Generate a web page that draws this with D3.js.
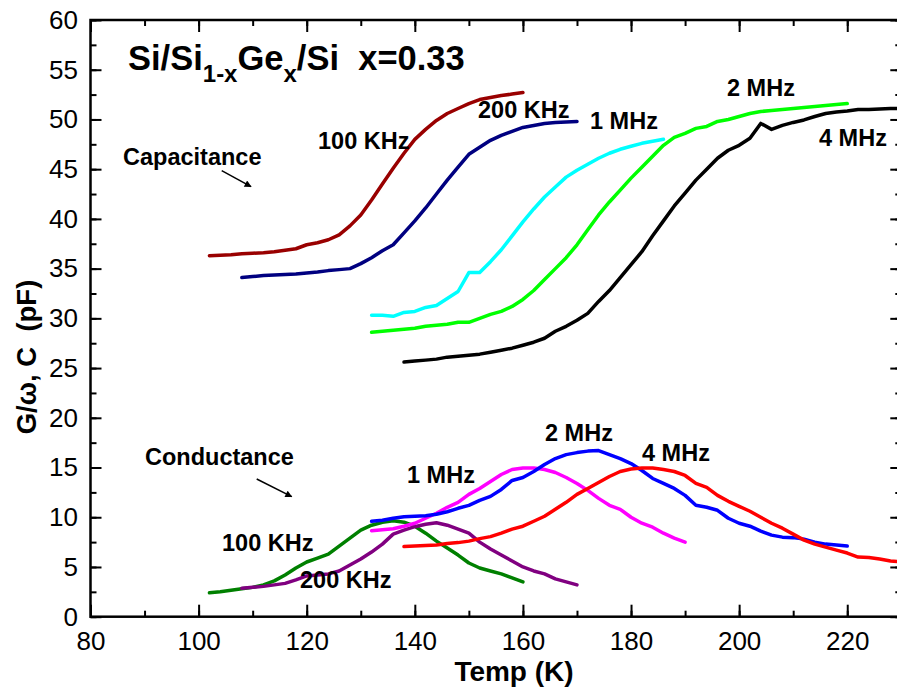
<!DOCTYPE html>
<html>
<head>
<meta charset="utf-8">
<script src="https://cdn.jsdelivr.net/npm/d3@7"></script>
<style>
  html, body { margin: 0; padding: 0; background: #fff; }
  svg { display: block; font-family: "Liberation Sans", Arial, Helvetica, sans-serif; }
</style>
</head>
<body>
<svg id="chart" width="897" height="691"></svg>
<script>
// Temperature grids (K)
const tCap100k = [102,104,106,108,110,112,114,116,118,120,122,124,126,128,130,132,134,136,138,140,142,144,146,148,150,152,154,156,158,160];
const cap100k  = [36.3,36.35,36.4,36.5,36.55,36.6,36.7,36.85,37.0,37.4,37.6,37.9,38.4,39.3,40.4,41.9,43.5,45.1,46.6,48.0,49.0,49.9,50.6,51.1,51.6,52.0,52.2,52.4,52.55,52.7];

const tCap200k = [108,110,112,114,116,118,120,122,124,126,128,130,132,134,136,138,140,142,144,146,148,150,152,154,156,158,160,162,164,166,168,170];
const cap200k  = [34.1,34.2,34.3,34.35,34.4,34.45,34.55,34.65,34.8,34.9,35.0,35.5,36.1,36.8,37.4,38.6,39.8,41.1,42.5,43.9,45.2,46.5,47.2,47.9,48.4,48.8,49.2,49.4,49.6,49.7,49.75,49.8];

const tCap1M = [132,134,136,138,140,142,144,146,148,150,152,154,156,158,160,162,164,166,168,170,172,174,176,178,180,182,184,186];
const cap1M  = [30.3,30.3,30.2,30.6,30.7,31.1,31.3,32.0,32.7,34.6,34.6,35.7,36.9,38.3,39.7,41.0,42.2,43.2,44.2,44.9,45.5,46.1,46.6,47.0,47.3,47.6,47.8,48.0];

const tCap2M = [132,134,136,138,140,142,144,146,148,150,152,154,156,158,160,162,164,166,168,170,172,174,176,178,180,182,184,186,188,190,192,194,196,198,200,202,204,206,208,210,212,214,216,218,220];
const cap2M  = [28.6,28.7,28.8,28.9,29.0,29.2,29.3,29.4,29.6,29.6,30.0,30.4,30.7,31.2,31.9,32.8,33.9,35.0,36.1,37.4,38.9,40.4,41.7,42.9,44.1,45.2,46.3,47.4,48.2,48.6,49.1,49.3,49.8,50.0,50.3,50.6,50.8,50.9,51.0,51.1,51.2,51.3,51.4,51.5,51.6];

const tCap4M = [138,140,142,144,146,148,150,152,154,156,158,160,162,164,166,168,170,172,174,176,178,180,182,184,186,188,190,192,194,196,198,200,202,204,206,208,210,212,214,216,218,220,222,224,226,228,230];
const cap4M  = [25.6,25.7,25.8,25.9,26.1,26.2,26.3,26.4,26.6,26.8,27.0,27.3,27.6,28.0,28.7,29.2,29.8,30.5,31.7,32.8,34.1,35.4,36.7,38.3,39.8,41.3,42.6,43.9,45.0,46.1,46.9,47.4,48.1,49.6,49.0,49.4,49.7,49.95,50.3,50.6,50.75,50.85,51.0,51.0,51.05,51.1,51.1];

const tCond100k = [102,104,106,108,110,112,114,116,118,120,122,124,126,128,130,132,134,136,138,140,142,144,146,148,150,152,154,156,158,160];
const cond100k  = [2.4,2.5,2.65,2.8,2.95,3.2,3.6,4.2,4.9,5.5,5.9,6.3,7.1,7.9,8.7,9.2,9.5,9.65,9.5,9.1,8.4,7.6,6.9,6.2,5.4,4.9,4.6,4.3,3.9,3.5];

const tCond200k = [108,110,112,114,116,118,120,122,124,126,128,130,132,134,136,138,140,142,144,146,148,150,152,154,156,158,160,162,164,166,168,170];
const cond200k  = [2.85,2.95,3.05,3.2,3.35,3.7,4.1,4.2,4.3,4.6,5.2,5.8,6.5,7.3,8.3,8.7,9.05,9.3,9.45,9.2,8.8,8.4,7.5,6.8,6.2,5.6,5.0,4.6,4.3,3.8,3.5,3.2];

const tCond1M = [132,134,136,138,140,142,144,146,148,150,152,154,156,158,160,162,164,166,168,170,172,174,176,178,180,182,184,186,188,190];
const cond1M  = [8.65,8.75,8.85,9.1,9.4,9.9,10.4,11.0,11.5,12.3,12.9,13.6,14.3,14.8,14.95,14.95,14.8,14.5,14.0,13.4,12.7,11.9,11.2,10.8,10.0,9.4,9.0,8.4,7.9,7.5];

const tCond2M = [132,134,136,138,140,142,144,146,148,150,152,154,156,158,160,162,164,166,168,170,172,174,176,178,180,182,184,186,188,190,192,194,196,198,200,202,204,206,208,210,212,214,216,218,220];
const cond2M  = [9.6,9.7,9.9,10.05,10.1,10.15,10.3,10.55,10.9,11.2,11.7,12.1,12.8,13.7,14.0,14.6,15.3,15.9,16.3,16.5,16.65,16.7,16.3,15.9,15.4,14.7,13.9,13.4,12.9,12.2,11.2,11.0,10.7,9.9,9.4,9.1,8.6,8.2,8.0,7.95,7.8,7.5,7.3,7.2,7.1];

const tCond4M = [138,140,142,144,146,148,150,152,154,156,158,160,162,164,166,168,170,172,174,176,178,180,182,184,186,188,190,192,194,196,198,200,202,204,206,208,210,212,214,216,218,220,222,224,226,228,230];
const cond4M  = [7.05,7.1,7.15,7.2,7.35,7.45,7.6,7.85,8.05,8.4,8.8,9.1,9.6,10.1,10.8,11.5,12.3,12.9,13.5,14.1,14.6,14.85,14.95,14.95,14.8,14.6,14.2,13.4,13.0,12.2,11.6,11.1,10.6,10.0,9.4,8.9,8.3,7.7,7.3,7.0,6.7,6.4,6.0,5.95,5.8,5.6,5.5];

const xTicksMajor = [80,100,120,140,160,180,200,220];
const yTicksMajor = [0,5,10,15,20,25,30,35,40,45,50,55,60];

const series = [
  { t: tCap100k,  v: cap100k,  color: "#990000" },
  { t: tCap200k,  v: cap200k,  color: "#000080" },
  { t: tCap1M,    v: cap1M,    color: "#00FFFF" },
  { t: tCap2M,    v: cap2M,    color: "#00FF00" },
  { t: tCap4M,    v: cap4M,    color: "#000000" },
  { t: tCond100k, v: cond100k, color: "#008000" },
  { t: tCond200k, v: cond200k, color: "#800080" },
  { t: tCond1M,   v: cond1M,   color: "#FF00FF" },
  { t: tCond2M,   v: cond2M,   color: "#0000FF" },
  { t: tCond4M,   v: cond4M,   color: "#FF0000" }
];

const svg = d3.select("#chart");
const plotLeft = 90.5, plotRight = 901.3, plotTop = 20, plotBottom = 616.7;

const x = d3.scaleLinear().domain([80, 230]).range([plotLeft, plotRight]);
const y = d3.scaleLinear().domain([0, 60]).range([plotBottom, plotTop]);

const defs = svg.append("defs");
defs.append("clipPath").attr("id", "plotClip")
  .append("rect").attr("x", plotLeft).attr("y", plotTop)
  .attr("width", plotRight - plotLeft).attr("height", plotBottom - plotTop);

// Curves
const line = d3.line().x(d => x(d[0])).y(d => y(d[1]));
const plot = svg.append("g").attr("clip-path", "url(#plotClip)");
series.forEach(s => {
  plot.append("path")
    .datum(s.t.map((t, i) => [t, s.v[i]]))
    .attr("fill", "none")
    .attr("stroke", s.color)
    .attr("stroke-width", 3.5)
    .attr("stroke-linejoin", "round")
    .attr("stroke-linecap", "round")
    .attr("d", line);
});

// Frame axes with inward ticks
const xMinor = d3.range(80, 231, 10);
const yMinor = d3.range(0, 60.1, 2.5);
const axisStyle = g => {
  g.select(".domain").remove();
  g.selectAll("line").attr("stroke", "#000").attr("stroke-width", 2);
};
const tickText = g => g.selectAll("text")
  .attr("font-size", 26).attr("fill", "#000")
  .attr("font-family", "Liberation Sans, Arial, sans-serif");

svg.append("g").attr("transform", `translate(0,${plotBottom})`)
  .call(d3.axisBottom(x).tickValues(xMinor).tickSize(-6).tickFormat(""))
  .call(axisStyle);
svg.append("g").attr("transform", `translate(0,${plotBottom})`)
  .call(d3.axisBottom(x).tickValues(xTicksMajor).tickSize(-12).tickPadding(15).tickFormat(d3.format("d")))
  .call(axisStyle)
  .call(tickText);
svg.append("g").attr("transform", `translate(0,${plotTop})`)
  .call(d3.axisTop(x).tickValues(xMinor).tickSize(-6).tickFormat(""))
  .call(axisStyle);
svg.append("g").attr("transform", `translate(0,${plotTop})`)
  .call(d3.axisTop(x).tickValues(xTicksMajor).tickSize(-12).tickFormat(""))
  .call(axisStyle);

svg.append("g").attr("transform", `translate(${plotLeft},0)`)
  .call(d3.axisLeft(y).tickValues(yMinor).tickSize(-6).tickFormat(""))
  .call(axisStyle);
svg.append("g").attr("transform", `translate(${plotLeft},0)`)
  .call(d3.axisLeft(y).tickValues(yTicksMajor).tickSize(-11).tickPadding(12.5).tickFormat(d3.format("d")))
  .call(axisStyle)
  .call(tickText);
svg.append("g").attr("transform", `translate(${plotRight},0)`)
  .call(d3.axisRight(y).tickValues(yMinor).tickSize(-6).tickFormat(""))
  .call(axisStyle);
svg.append("g").attr("transform", `translate(${plotRight},0)`)
  .call(d3.axisRight(y).tickValues(yTicksMajor).tickSize(-11).tickFormat(""))
  .call(axisStyle);

// Frame
svg.append("rect")
  .attr("x", plotLeft).attr("y", plotTop)
  .attr("width", plotRight - plotLeft).attr("height", plotBottom - plotTop)
  .attr("fill", "none").attr("stroke", "#000").attr("stroke-width", 2.5);

// Axis titles
svg.append("text")
  .attr("x", 514).attr("y", 681)
  .attr("text-anchor", "middle")
  .attr("font-size", 28).attr("font-weight", "bold")
  .text("Temp (K)");

svg.append("text")
  .attr("transform", "translate(36,357) rotate(-90)")
  .attr("text-anchor", "middle")
  .attr("font-size", 27.5).attr("font-weight", "bold")
  .style("white-space", "pre")
  .text("G/\u03C9, C  (pF)");

// Sample title with subscripts
const title = svg.append("text")
  .attr("x", 128).attr("y", 70)
  .attr("font-size", 34.5).attr("font-weight", "bold")
  .style("white-space", "pre");
title.append("tspan").text("Si/Si");
title.append("tspan").attr("font-size", 24).attr("dy", 12).text("1-x");
title.append("tspan").attr("dy", -12).text("Ge");
title.append("tspan").attr("font-size", 24).attr("dy", 12).text("x");
title.append("tspan").attr("dy", -12).text("/Si  x=0.33");

// Curve annotations
const labels = [
  { text: "Capacitance", x: 123, y: 165 },
  { text: "Conductance", x: 145, y: 465 },
  { text: "100 KHz", x: 318, y: 149 },
  { text: "200 KHz", x: 478, y: 118 },
  { text: "1 MHz",   x: 590, y: 129 },
  { text: "2 MHz",   x: 727, y: 96 },
  { text: "4 MHz",   x: 819, y: 146 },
  { text: "100 KHz", x: 222, y: 551 },
  { text: "200 KHz", x: 300, y: 588 },
  { text: "1 MHz",   x: 407, y: 483 },
  { text: "2 MHz",   x: 545, y: 441 },
  { text: "4 MHz",   x: 642, y: 461 }
];
svg.append("g").selectAll("text").data(labels).join("text")
  .attr("x", d => d.x).attr("y", d => d.y)
  .attr("font-size", 23.5).attr("font-weight", "bold")
  .text(d => d.text);

// Pointer arrows
defs.append("marker").attr("id", "arrowHead")
  .attr("viewBox", "0 0 10 10").attr("refX", 9).attr("refY", 5)
  .attr("markerWidth", 9).attr("markerHeight", 7).attr("markerUnits", "userSpaceOnUse")
  .attr("orient", "auto")
  .append("path").attr("d", "M0,0 L10,5 L0,10 Z").attr("fill", "#000");

[[221.7, 170.7, 251, 186.7], [256.7, 479, 291.7, 496.7]].forEach(a => {
  svg.append("line")
    .attr("x1", a[0]).attr("y1", a[1]).attr("x2", a[2]).attr("y2", a[3])
    .attr("stroke", "#000").attr("stroke-width", 1.5)
    .attr("marker-end", "url(#arrowHead)");
});
</script>
</body>
</html>
